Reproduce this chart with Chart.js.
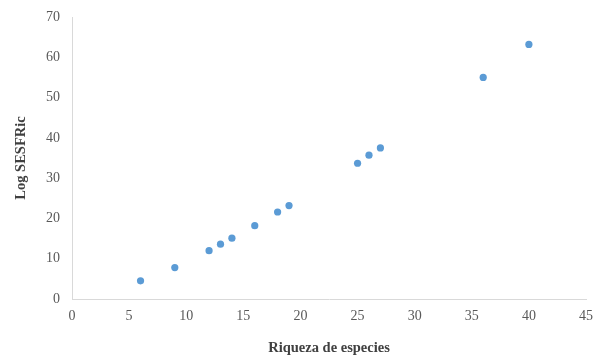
<!DOCTYPE html>
<html>
<head>
<meta charset="utf-8">
<script src="https://cdn.jsdelivr.net/npm/chart.js@4/dist/chart.umd.min.js"></script>
<style>
  html, body { margin: 0; padding: 0; background: #ffffff; }
  #wrap { width: 595px; height: 358px; }
</style>
</head>
<body>
<div id="wrap"><canvas id="c" width="595" height="358"></canvas></div>
<script>
// Species richness vs. log SESFRic
const riqueza = [6, 9, 12, 13, 14, 16, 18, 19, 25, 26, 27, 36, 40];
const logSesfric = [4.5, 7.8, 12.0, 13.6, 15.1, 18.2, 21.6, 23.2, 33.7, 35.7, 37.5, 55.0, 63.2];

const xTicks = [0, 5, 10, 15, 20, 25, 30, 35, 40, 45];
const yTicks = [0, 10, 20, 30, 40, 50, 60, 70];

const points = riqueza.map((x, i) => ({ x: x, y: logSesfric[i] }));

const tickFont = { family: "'Liberation Serif', 'Times New Roman', serif", size: 14 };
const titleFont = { family: "'Liberation Serif', 'Times New Roman', serif", size: 14.5, weight: 'bold' };

new Chart(document.getElementById('c'), {
  type: 'scatter',
  data: {
    datasets: [{
      data: points,
      backgroundColor: '#5b9bd5',
      borderWidth: 0,
      pointRadius: 3.6,
      pointHoverRadius: 3.6
    }]
  },
  options: {
    responsive: false,
    animation: false,
    devicePixelRatio: 1,
    layout: { padding: { top: 17, right: 9, bottom: 0, left: 0 } },
    plugins: { legend: { display: false }, tooltip: { enabled: false } },
    scales: {
      x: {
        type: 'linear',
        min: xTicks[0],
        max: xTicks[xTicks.length - 1],
        afterBuildTicks: s => { s.ticks = xTicks.map(v => ({ value: v })); },
        afterFit: s => { s.height = 59; s.paddingLeft = 0; s.paddingRight = 0; },
        grid: { display: false, drawTicks: false },
        border: { display: true, color: '#d9d9d9', width: 1 },
        ticks: { color: '#595959', font: tickFont, padding: 9, maxRotation: 0 },
        title: {
          display: true,
          text: 'Riqueza de especies',
          color: '#404040',
          font: titleFont,
          padding: { top: 0, bottom: 1 }
        }
      },
      y: {
        type: 'linear',
        min: yTicks[0],
        max: yTicks[yTicks.length - 1],
        afterBuildTicks: s => { s.ticks = yTicks.map(v => ({ value: v })); },
        afterFit: s => { s.width = 72; s.paddingTop = 0; s.paddingBottom = 0; },
        grid: { display: false, drawTicks: false },
        border: { display: true, color: '#d9d9d9', width: 1 },
        ticks: { color: '#595959', font: tickFont, padding: 12 },
        title: {
          display: true,
          text: 'Log SESFRic',
          color: '#404040',
          font: titleFont,
          padding: { top: 13, bottom: 0 }
        }
      }
    }
  }
});
</script>
</body>
</html>
